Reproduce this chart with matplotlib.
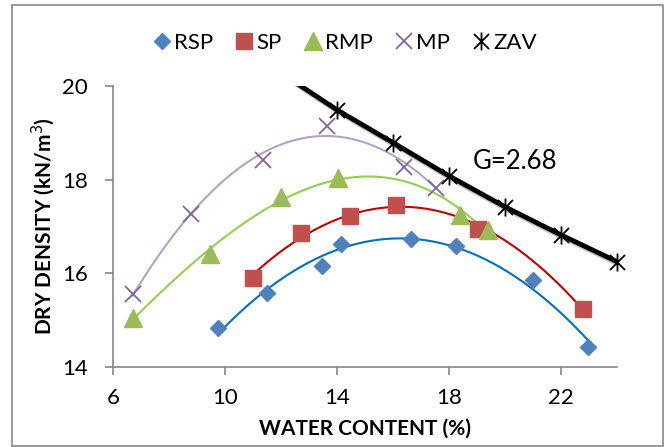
import numpy as np
import matplotlib
matplotlib.use("Agg")
from matplotlib import pyplot as plt
from matplotlib.path import Path
import matplotlib.patheffects as pe
from matplotlib.patches import Rectangle

plt.rcParams['font.family'] = ['Lato', 'DejaVu Sans']

# water content (%) and dry density (kN/m3)
rsp_w = [9.75, 11.5, 13.45, 14.15, 16.65, 18.25, 21.0, 22.95]
rsp_d = [14.83, 15.57, 16.15, 16.63, 16.74, 16.58, 15.86, 14.43]

sp_w = [11.0, 12.7, 14.45, 16.1, 19.05, 22.8]
sp_d = [15.9, 16.87, 17.22, 17.45, 16.95, 15.24]

rmp_w = [6.7, 9.45, 12.0, 14.05, 18.4, 19.4]
rmp_d = [15.04, 16.42, 17.63, 18.03, 17.25, 16.93]

mp_w = [6.7, 8.8, 11.35, 13.65, 16.4, 17.55]
mp_d = [15.56, 17.26, 18.43, 19.14, 18.27, 17.83]

zav_w = [12, 14, 16, 18, 20, 22, 24]
zav_d = [20.28, 19.49, 18.79, 18.08, 17.42, 16.82, 16.25]

# Excel-like star marker (X with a vertical bar)
star = Path([(-1, -1), (1, 1), (-1, 1), (1, -1), (0, -1.2), (0, 1.2)],
            [Path.MOVETO, Path.LINETO, Path.MOVETO, Path.LINETO, Path.MOVETO, Path.LINETO])

fig = plt.figure(figsize=(6.69, 4.47), dpi=100)
fig.patch.set_facecolor("white")
fig.patches.append(Rectangle((12 / 669, 1 - 446 / 447), 651 / 669, 441 / 447,
                             transform=fig.transFigure, fill=False,
                             edgecolor="#878787", linewidth=1.2))
ax = fig.add_axes([113 / 669, 80 / 447, 504 / 669, 281 / 447])

def trend(ax, w, d, color, order=2):
    coef = np.polyfit(w, d, order)
    xs = np.linspace(min(w), max(w), 200)
    ax.plot(xs, np.polyval(coef, xs), color=color, linewidth=1.5, zorder=2)

trend(ax, rsp_w, rsp_d, "#0070C0")
trend(ax, sp_w, sp_d, "#C00000")
trend(ax, rmp_w, rmp_d, "#92D050", order=3)
trend(ax, mp_w, mp_d, "#B3A2C7")

ax.plot(zav_w, zav_d, color="black", linewidth=3.5, zorder=3,
        path_effects=[pe.SimpleLineShadow(offset=(1.5, -2), alpha=0.35, shadow_color="#555555"),
                      pe.Normal()])

ax.plot(rsp_w, rsp_d, linestyle="none", marker="D", ms=8, color="#4F81BD", label="RSP", zorder=4)
ax.plot(sp_w, sp_d, linestyle="none", marker="s", ms=11, color="#C0504D", label="SP", zorder=4)
ax.plot(rmp_w, rmp_d, linestyle="none", marker="^", ms=13, color="#9BBB59", label="RMP", zorder=4)
ax.plot(mp_w, mp_d, linestyle="none", marker="x", ms=12, mew=1.3, color="#8064A2", label="MP", zorder=4)

# only the ZAV points that fall inside the plotted range get a marker
zw = [w for w, d in zip(zav_w, zav_d) if d <= 20]
zd = [d for d in zav_d if d <= 20]
ax.plot(zw, zd, linestyle="none", marker=star, ms=13, mew=1.3, color="black",
        mfc="none", label="ZAV", zorder=4, clip_on=False)

ax.text(18.85, 18.38, "G=2.68", fontsize=18.5, va="center", ha="left")

ax.set_xlim(6, 24)
ax.set_ylim(14, 20)
ax.set_xticks([6, 10, 14, 18, 22])
ax.set_yticks([14, 16, 18, 20])
ax.spines["top"].set_visible(False)
ax.spines["right"].set_visible(False)
for s in ("left", "bottom"):
    ax.spines[s].set_color("#868686")
    ax.spines[s].set_linewidth(1.2)
ax.tick_params(direction="out", length=6, width=1.2, color="#868686", labelsize=16)
ax.tick_params(axis="y", pad=12)
ax.tick_params(axis="x", pad=9)
ax.set_xlabel("WATER CONTENT (%)", fontsize=15, fontweight="bold", labelpad=8)
ax.set_ylabel("DRY DENSITY (kN/m$^3$)", fontsize=15, fontweight="bold", labelpad=4)

fig.legend(loc="center", bbox_to_anchor=(345 / 669, 1 - 43 / 447), ncol=5, frameon=False,
           fontsize=16, handlelength=0.8, handletextpad=0.15, columnspacing=1.0,
           borderaxespad=0)

fig.savefig("out.png", dpi=100)
